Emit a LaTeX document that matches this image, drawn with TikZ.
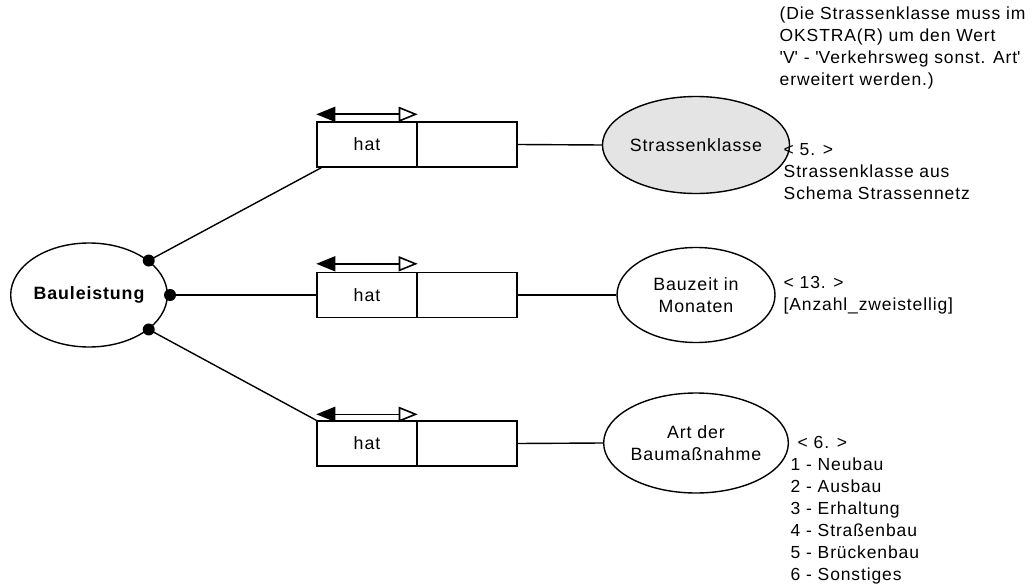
\documentclass[tikz,border=0pt]{standalone}
\usepackage{fontspec}
\setmainfont{Liberation Sans}[LetterSpace=5]
\usepackage{tikz}
\usetikzlibrary{arrows.meta,shapes.geometric}
\definecolor{keyfill}{HTML}{E4E4E4}

\begin{document}
\begin{tikzpicture}[x=1pt,y=-1pt,line width=1.4pt]
  \tikzstyle{entity}=[draw,ellipse,inner sep=0pt,minimum width=158pt,minimum height=97pt,align=center,font=\fontsize{17.8}{22}\selectfont]
  \tikzstyle{relbox}=[draw,rectangle,inner sep=0pt,minimum width=100pt,minimum height=45pt,font=\fontsize{17.8}{22}\selectfont]
  \tikzstyle{note}=[anchor=north west,align=left,inner sep=0pt,font=\fontsize{17.5}{22}\selectfont]
  \tikzstyle{joint}=[circle,fill=black,inner sep=0pt,minimum size=12pt]
  \tikzstyle{readdir}=[line width=1.6pt,{Triangle[length=19pt,width=15pt]}-{Triangle[open,fill=white,length=19pt,width=15pt]}]
  \useasboundingbox (0,0) rectangle (1033,588);
  % entity and attributes
  \node[entity,minimum width=156pt,minimum height=104pt,font=\fontsize{17.8}{22}\selectfont\bfseries] (bau) at (89,295) {Bauleistung};
  \node[entity,fill=keyfill] (klasse) at (696,145) {Strassenklasse};
  \node[entity,minimum height=95pt] (bauzeit) at (696,295) {Bauzeit in\\Monaten};
  \node[entity,minimum height=100pt] (art) at (696,443) {Art der\\Baumaßnahme};
  % relationship boxes
  \node[relbox] (hat1) at (367,144.5) {hat};
  \node[relbox] (val1) at (467,144.5) {};
  \node[relbox] (hat2) at (367,295) {hat};
  \node[relbox] (val2) at (467,295) {};
  \node[relbox] (hat3) at (367,443.5) {hat};
  \node[relbox] (val3) at (467,443.5) {};
  % reading direction
  \draw[readdir] ([yshift=7pt]hat1.north west) -- ([yshift=7pt]hat1.north east);
  \draw[readdir] ([yshift=8pt]hat2.north west) -- ([yshift=8pt]hat2.north east);
  \draw[readdir] ([yshift=6pt]hat3.north west) -- ([yshift=6pt]hat3.north east);
  % connectors
  \draw (bau.30) -- ([xshift=5pt]hat1.south west);
  \draw (bau.east) -- (hat2.west);
  \draw (bau.-30) -- (hat3.north west);
  \draw (val1.east) -- (klasse.west);
  \draw (val2.east) -- (bauzeit.west);
  \draw (val3.east) -- (art.west);
  \node[joint] (j1) at (bau.30) {};
  \node[joint] (j2) at ([xshift=2pt]bau.east) {};
  \node[joint] (j3) at (bau.-30) {};
  % notes
  \node[note] (klassenote) at (779,6) {(Die Strassenklasse muss im\\OKSTRA(R) um den Wert\\\textquotesingle V\textquotesingle{} - \textquotesingle Verkehrsweg sonst. Art\textquotesingle\\erweitert werden.)};
  \node[note] (klasseinfo) at (783,143) {< 5. >\\Strassenklasse aus\\Schema Strassennetz};
  \node[note] (bauzeitinfo) at (783,276) {< 13. >\\{[}Anzahl\_zweistellig{]}};
  \node[note] (artinfo) at (790,436) {\hspace*{7pt}< 6. >\\1 - Neubau\\2 - Ausbau\\3 - Erhaltung\\4 - Straßenbau\\5 - Brückenbau\\6 - Sonstiges};
\end{tikzpicture}
\end{document}
